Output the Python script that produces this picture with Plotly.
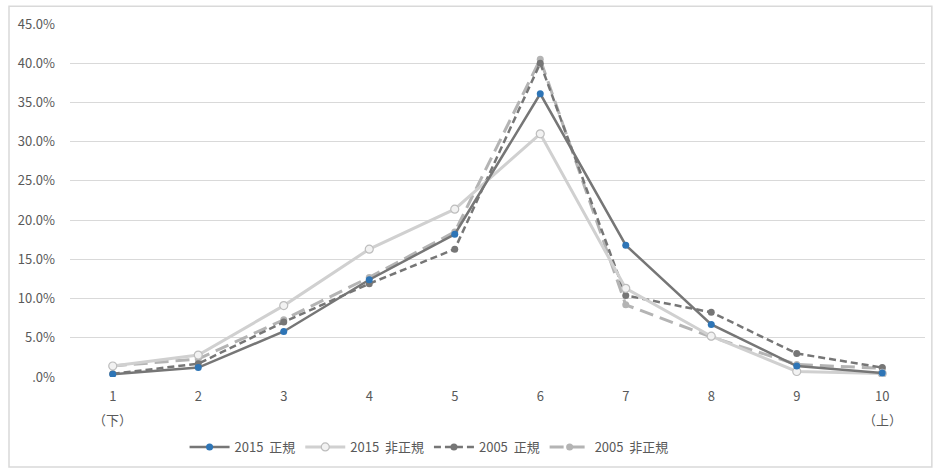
import plotly.graph_objects as go

# Categories (income decile, 1 = bottom, 10 = top)
categories = [1, 2, 3, 4, 5, 6, 7, 8, 9, 10]
tick_labels = ["1", "2", "3", "4", "5", "6", "7", "8", "9", "10"]
# Secondary captions under the end categories
end_captions = {1: "（下）", 10: "（上）"}

# Share of workers in each decile (%)
regular_2015 = [0.35, 1.2, 5.8, 12.4, 18.2, 36.1, 16.8, 6.7, 1.4, 0.5]
nonregular_2015 = [1.4, 2.8, 9.1, 16.3, 21.4, 31.0, 11.3, 5.2, 0.7, 0.45]
regular_2005 = [0.4, 1.7, 7.0, 11.9, 16.3, 40.0, 10.4, 8.25, 3.0, 1.2]
nonregular_2005 = [1.4, 2.3, 7.3, 12.7, 18.5, 40.5, 9.2, 5.1, 1.6, 1.1]

y_ticks = [0, 5, 10, 15, 20, 25, 30, 35, 40, 45]
y_tick_text = [".0%", "5.0%", "10.0%", "15.0%", "20.0%", "25.0%", "30.0%", "35.0%", "40.0%", "45.0%"]

FONT = "Noto Sans CJK JP, Noto Sans, sans-serif"
DARK = "#767676"
LIGHT = "#d0d0d0"
LIGHT_DASH = "#b4b4b4"
TEXT = "#595959"

fig = go.Figure()

fig.add_trace(go.Scatter(
    x=categories, y=nonregular_2005, name="2005  非正規", mode="lines+markers",
    line=dict(color=LIGHT_DASH, width=3, dash="14px,7px"),
    marker=dict(color=LIGHT_DASH, size=7, symbol="circle"),
))
fig.add_trace(go.Scatter(
    x=categories, y=regular_2005, name="2005  正規", mode="lines+markers",
    line=dict(color=DARK, width=2.5, dash="7px,4px"),
    marker=dict(color=DARK, size=7, symbol="circle"),
))
fig.add_trace(go.Scatter(
    x=categories, y=nonregular_2015, name="2015  非正規", mode="lines+markers",
    line=dict(color=LIGHT, width=3),
    marker=dict(color="#f2f2f2", size=8, symbol="circle",
                line=dict(color="#bdbdbd", width=1.2)),
))
fig.add_trace(go.Scatter(
    x=categories, y=regular_2015, name="2015  正規", mode="lines+markers",
    line=dict(color=DARK, width=2.5),
    marker=dict(color="#2e75b6", size=7, symbol="circle",
                line=dict(color="#2e75b6", width=0)),
))

annotations = [
    dict(x=k, xref="x", y=-42/353, yref="paper", text=v, showarrow=False,
         xanchor="center", yanchor="middle", borderpad=0,
         font=dict(size=13, color=TEXT))
    for k, v in end_captions.items()
]

fig.update_layout(
    width=933, height=468,
    margin=dict(l=70, r=8, t=24, b=91, autoexpand=False),
    paper_bgcolor="white", plot_bgcolor="white",
    font=dict(family=FONT, size=12, color=TEXT),
    showlegend=True,
    legend=dict(
        orientation="h", x=0.134, xanchor="left", y=-70/353, yanchor="middle",
        traceorder="reversed", font=dict(size=13, color=TEXT),
        itemwidth=40, tracegroupgap=0,
    ),
    xaxis=dict(
        range=[0.5, 10.5], tickmode="array", tickvals=categories, ticktext=tick_labels,
        showgrid=False, zeroline=False, showline=False, ticks="",
        ticklabelstandoff=10,
        tickfont=dict(size=13, color=TEXT),
    ),
    yaxis=dict(
        range=[0, 45], tickmode="array", tickvals=y_ticks, ticktext=y_tick_text,
        showgrid=True, gridcolor="#d9d9d9", gridwidth=1, zeroline=False,
        showline=False, ticks="", ticklabelstandoff=14,
        tickfont=dict(size=13, color=TEXT),
    ),
    annotations=annotations,
    shapes=[dict(type="rect", xref="paper", yref="paper",
                 x0=-61/855, x1=1.008, y0=-90/353, y1=1.05,
                 line=dict(color="#d9d9d9", width=1.5), fillcolor="rgba(0,0,0,0)",
                 layer="below")],
)

fig.write_html("out.html")
